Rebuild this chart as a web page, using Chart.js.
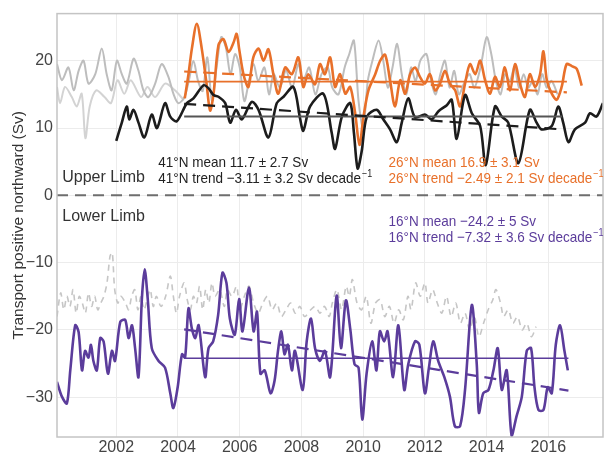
<!DOCTYPE html>
<html>
<head>
<meta charset="utf-8">
<script src="https://cdn.jsdelivr.net/npm/chart.js@4.4.1/dist/chart.umd.min.js"></script>
<style>
  html, body { margin: 0; padding: 0; background: #fff; }
  #wrap { width: 606px; height: 457px; }
</style>
</head>
<body>
<div id="wrap"><canvas id="amocChart" width="606" height="457"></canvas></div>
<script>
// transport time series (decimal year, Sv)

// 41N upper limb (black)
const blackYears = [2002.0, 2002.18, 2002.34, 2002.42, 2002.56, 2002.72, 2002.91, 2003.15, 2003.32, 2003.58, 2003.75, 2003.96, 2004.29, 2004.5, 2004.83, 2004.99, 2005.15, 2005.31, 2005.53, 2005.69, 2005.88, 2006.07, 2006.39, 2006.61, 2006.93, 2007.2, 2007.42, 2007.74, 2007.96, 2008.06, 2008.28, 2008.71, 2008.98, 2009.09, 2009.31, 2009.58, 2009.7, 2009.82, 2009.95, 2010.12, 2010.44, 2010.65, 2010.87, 2011.09, 2011.25, 2011.46, 2011.68, 2012.0, 2012.22, 2012.44, 2012.71, 2012.87, 2013.03, 2013.3, 2013.52, 2013.79, 2013.97, 2014.27, 2014.49, 2014.7, 2015.03, 2015.4, 2015.62, 2015.78, 2016.11, 2016.32, 2016.48, 2016.65, 2016.86, 2017.19, 2017.35, 2017.56, 2017.77];
const blackValues = [8.1, 10.8, 13.2, 11.3, 12.7, 10.8, 8.6, 12.0, 10.0, 13.7, 11.7, 11.0, 13.7, 14.4, 16.35, 15.9, 14.9, 14.65, 13.7, 10.8, 12.7, 11.3, 13.9, 12.7, 8.6, 13.7, 14.65, 16.1, 11.3, 9.6, 13.2, 15.1, 9.3, 6.9, 11.7, 13.7, 9.3, 4.0, 6.5, 11.7, 12.7, 11.3, 9.8, 7.9, 10.8, 14.4, 11.6, 12.0, 11.3, 12.5, 13.4, 14.2, 8.4, 14.9, 12.2, 10.3, 4.5, 13.2, 11.7, 10.8, 4.8, 12.7, 10.8, 9.8, 10.3, 13.2, 10.8, 7.9, 9.8, 10.8, 12.2, 11.7, 13.7];

// 26N upper limb (orange)
const orangeYears = [2004.22, 2004.34, 2004.45, 2004.61, 2004.77, 2004.93, 2005.04, 2005.15, 2005.31, 2005.47, 2005.64, 2005.8, 2005.9, 2005.98, 2006.12, 2006.28, 2006.44, 2006.61, 2006.77, 2006.93, 2007.09, 2007.25, 2007.47, 2007.69, 2007.9, 2008.06, 2008.22, 2008.44, 2008.6, 2008.76, 2008.93, 2009.09, 2009.25, 2009.42, 2009.58, 2009.74, 2009.88, 2010.01, 2010.17, 2010.39, 2010.55, 2010.71, 2010.87, 2011.03, 2011.2, 2011.36, 2011.52, 2011.68, 2011.84, 2012.0, 2012.16, 2012.33, 2012.49, 2012.65, 2012.81, 2012.98, 2013.14, 2013.3, 2013.46, 2013.63, 2013.79, 2013.95, 2014.11, 2014.27, 2014.43, 2014.59, 2014.76, 2014.92, 2015.08, 2015.24, 2015.4, 2015.57, 2015.73, 2015.84, 2015.95, 2016.11, 2016.27, 2016.43, 2016.59, 2016.76, 2016.92, 2017.08];
const orangeValues = [14.4, 18.0, 21.8, 25.5, 21.8, 16.4, 12.6, 15.0, 22.3, 23.2, 21.3, 22.7, 24.0, 21.8, 18.0, 16.1, 20.5, 21.8, 20.0, 21.7, 18.0, 15.1, 19.0, 18.0, 20.5, 16.1, 18.0, 16.5, 19.5, 18.0, 20.5, 16.1, 18.0, 15.1, 16.1, 12.2, 7.5, 11.7, 15.6, 18.0, 20.0, 20.9, 17.1, 13.2, 17.1, 15.1, 18.0, 19.0, 17.6, 16.6, 18.0, 15.6, 16.6, 18.5, 16.6, 15.6, 13.2, 16.6, 19.5, 18.0, 20.0, 17.1, 15.1, 17.6, 16.1, 19.0, 15.6, 19.5, 16.6, 14.6, 18.0, 16.1, 18.0, 21.4, 17.1, 15.1, 14.2, 16.1, 19.5, 19.2, 18.8, 16.3];

// 16N lower limb (purple)
const purpleYears = [2000.08, 2000.24, 2000.4, 2000.51, 2000.67, 2000.78, 2000.89, 2000.99, 2001.1, 2001.18, 2001.26, 2001.37, 2001.48, 2001.59, 2001.73, 2001.86, 2001.96, 2002.13, 2002.29, 2002.4, 2002.51, 2002.61, 2002.72, 2002.83, 2002.92, 2003.02, 2003.15, 2003.37, 2003.58, 2003.75, 2003.85, 2003.99, 2004.13, 2004.23, 2004.34, 2004.45, 2004.56, 2004.67, 2004.88, 2004.99, 2005.14, 2005.3, 2005.44, 2005.57, 2005.68, 2005.84, 2005.98, 2006.09, 2006.3, 2006.45, 2006.56, 2006.67, 2006.81, 2007.0, 2007.13, 2007.24, 2007.35, 2007.45, 2007.56, 2007.69, 2007.79, 2008.04, 2008.17, 2008.31, 2008.44, 2008.6, 2008.76, 2008.93, 2009.14, 2009.28, 2009.44, 2009.58, 2009.72, 2009.85, 2009.97, 2010.11, 2010.29, 2010.43, 2010.54, 2010.68, 2010.79, 2010.97, 2011.14, 2011.33, 2011.46, 2011.68, 2011.82, 2012.0, 2012.13, 2012.27, 2012.43, 2012.63, 2012.81, 2012.97, 2013.14, 2013.3, 2013.52, 2013.68, 2013.75, 2013.89, 2014.06, 2014.22, 2014.36, 2014.49, 2014.65, 2014.81, 2014.97, 2015.14, 2015.3, 2015.44, 2015.55, 2015.68, 2015.84, 2015.98, 2016.11, 2016.24, 2016.38, 2016.52, 2016.63];
const purpleValues = [-27.7, -29.9, -30.9, -26.0, -19.3, -20.3, -26.0, -23.1, -24.1, -22.2, -24.6, -26.0, -21.2, -21.7, -26.5, -23.1, -24.6, -18.8, -18.5, -21.2, -19.3, -22.7, -27.0, -15.4, -11.0, -15.4, -22.7, -24.6, -25.6, -29.4, -31.6, -28.5, -23.6, -24.1, -16.8, -19.8, -21.2, -19.3, -27.0, -22.7, -21.7, -17.8, -11.5, -13.0, -18.3, -20.7, -15.4, -20.2, -13.7, -20.2, -17.3, -26.5, -26.0, -29.4, -27.5, -23.1, -20.2, -23.6, -22.2, -26.0, -23.1, -28.9, -21.7, -18.3, -22.7, -24.6, -23.1, -27.0, -14.9, -22.7, -15.6, -19.8, -25.1, -25.6, -33.3, -26.5, -21.7, -26.0, -20.2, -21.7, -20.2, -27.0, -19.3, -28.9, -25.1, -21.7, -22.2, -29.4, -25.6, -21.7, -24.6, -27.0, -29.9, -34.3, -34.3, -28.9, -16.3, -25.1, -32.3, -29.4, -28.9, -26.0, -22.7, -28.9, -26.0, -35.7, -32.8, -29.9, -23.1, -22.7, -28.5, -31.9, -31.9, -28.5, -29.4, -22.2, -19.3, -23.1, -26.0];

// grey upper estimates
const greyYears = [2000.08, 2000.24, 2000.45, 2000.62, 2000.78, 2000.94, 2001.1, 2001.32, 2001.53, 2001.69, 2001.85, 2002.02, 2002.18, 2002.34, 2002.56, 2002.72, 2002.88, 2003.04, 2003.26, 2003.47, 2003.69, 2003.85, 2004.01, 2004.2, 2004.35, 2004.5, 2004.65, 2004.8, 2004.95, 2005.1, 2005.25, 2005.4, 2005.55, 2005.7, 2005.85, 2006.0, 2006.15, 2006.3, 2006.45, 2006.6, 2006.8, 2006.95, 2007.1, 2007.3, 2007.5, 2007.7, 2007.9, 2008.05, 2008.25, 2008.45, 2008.65, 2008.85, 2009.0, 2009.2, 2009.4, 2009.55, 2009.7, 2009.85, 2010.0, 2010.15, 2010.3, 2010.5, 2010.65, 2010.8, 2010.95, 2011.1, 2011.25, 2011.4, 2011.55, 2011.7, 2011.85, 2012.05, 2012.2, 2012.35, 2012.5, 2012.65, 2012.8, 2012.95, 2013.1, 2013.3, 2013.45, 2013.6, 2013.8, 2014.0, 2014.15, 2014.3, 2014.45, 2014.6, 2014.75, 2014.9, 2015.05, 2015.2, 2015.35, 2015.5, 2015.65, 2015.8, 2015.95, 2016.1, 2016.3];
const greyValues = [19.5, 17.1, 19.0, 15.6, 18.5, 20.0, 16.6, 18.0, 21.8, 18.0, 15.6, 20.0, 18.0, 16.6, 20.3, 18.5, 15.6, 14.6, 16.6, 19.5, 17.6, 15.1, 13.7, 14.5, 17, 20, 17, 15.5, 20.5, 14, 19, 23.5, 22, 18, 21, 19, 14, 17, 19.5, 17, 19, 15, 18, 16, 18.5, 16, 19.5, 17, 19, 15, 18, 19, 16, 15, 19, 21, 23, 14, 10, 17, 20, 23, 20, 16, 19, 22.5, 18, 15, 19, 17, 20, 21, 17, 15, 18, 20, 16, 18.5, 15, 17, 18, 16, 19, 23.5, 21, 17, 15, 18, 17, 19, 16, 18, 16, 17, 15, 18, 16, 17, 15];
const grey2Years = [2000.08, 2000.18, 2000.34, 2000.56, 2000.72, 2000.88, 2001.0, 2001.14, 2001.35, 2001.62, 2001.83, 2002.04, 2002.26, 2002.47, 2002.8, 2003.01, 2003.26, 2003.58, 2003.9, 2004.18];
const grey2Values = [16.1, 13.7, 16.1, 14.6, 13.2, 15.1, 8.5, 13.2, 15.6, 14.6, 13.7, 17.1, 15.1, 17.1, 14.6, 16.1, 14.6, 16.6, 15.6, 14.2];

// grey lower estimate (dashed)
const greyLowYears = [2000.08, 2000.2, 2000.3, 2000.4, 2000.5, 2000.6, 2000.7, 2000.8, 2000.9, 2001.0, 2001.1, 2001.2, 2001.3, 2001.4, 2001.5, 2001.6, 2001.7, 2001.8, 2001.87, 2001.95, 2002.05, 2002.15, 2002.3, 2002.4, 2002.5, 2002.6, 2002.7, 2002.8, 2002.9, 2003.0, 2003.1, 2003.2, 2003.3, 2003.45, 2003.6, 2003.75, 2003.85, 2003.95, 2004.05, 2004.2, 2004.3, 2004.4, 2004.5, 2004.6, 2004.7, 2004.8, 2004.9, 2005.0, 2005.1, 2005.2, 2005.35, 2005.5, 2005.6, 2005.75, 2005.9, 2006.0, 2006.15, 2006.3, 2006.45, 2006.6, 2006.75, 2006.9, 2007.05, 2007.2, 2007.35, 2007.5, 2007.65, 2007.8, 2007.95, 2008.1, 2008.3, 2008.45, 2008.6, 2008.75, 2008.9, 2009.0, 2009.15, 2009.3, 2009.45, 2009.55, 2009.65, 2009.8, 2009.95, 2010.1, 2010.25, 2010.4, 2010.55, 2010.7, 2010.85, 2011.0, 2011.15, 2011.3, 2011.45, 2011.55, 2011.7, 2011.85, 2012.0, 2012.1, 2012.25, 2012.4, 2012.55, 2012.7, 2012.85, 2013.0, 2013.15, 2013.3, 2013.45, 2013.6, 2013.75, 2013.9, 2014.05, 2014.2, 2014.3, 2014.45, 2014.55, 2014.7, 2014.85, 2015.0, 2015.15, 2015.3, 2015.45, 2015.6];
const greyLowValues = [-18, -14.5, -17, -15, -16.5, -14, -17.5, -15, -16, -17.5, -14.5, -16.5, -15, -17, -16, -15, -13, -9, -8.5, -14, -16, -15, -16, -17, -15, -14, -17, -15, -17, -15.5, -14, -16.5, -15, -16.5, -15, -12, -15, -17.5, -15, -13, -15.5, -17, -15, -16, -13.5, -17, -14, -16, -13, -15, -14, -16.5, -14, -15, -13.5, -17, -15, -13.5, -16, -17.5, -16, -15, -17, -16, -18, -17, -16, -17.5, -16.5, -18, -17, -16.5, -17.5, -16.5, -18, -16, -14, -17, -13.5, -15, -12.5, -16, -17, -15, -19, -16, -15.5, -18, -16.5, -19, -17, -18.5, -15, -17, -13, -15, -13, -16, -14, -16, -17.5, -15, -18, -16, -19, -17.5, -20, -18, -21, -19, -17, -15.5, -14, -16, -18, -17, -19, -18, -20, -19, -21, -19.5];

// mean and trend lines (start, end)
const mean41Years = [2004.2, 2016.45];
const mean41Values = [11.7, 11.7];
const trend41Values = [13.6, 9.8];
const mean26Years = [2004.2, 2016.6];
const mean26Values = [16.9, 16.9];
const trend26Values = [18.4, 15.3];
const mean16Years = [2004.2, 2016.65];
const mean16Values = [-24.2, -24.2];
const trend16Values = [-19.9, -29.0];

const zeroYears = [2000.08, 2017.77];
const zeroValues = [0, 0];

const yTicks = [-30, -20, -10, 0, 10, 20];

const colors = {
  black: "#1c1c1c",
  meanGrey: "#555555",
  orange: "#e8702a",
  purple: "#5b3c9b",
  grey: "#bdbdbd",
  grey2: "#d3d3d3",
  greyLow: "#c6c6c6",
  zero: "#6e6e6e",
};

const FONT = "'Liberation Sans', Arial, sans-serif";

function pts(xs, ys) {
  return xs.map((x, i) => ({ x: x, y: ys[i] }));
}

function lineSet(xs, ys, color, width, extra) {
  return Object.assign({
    data: pts(xs, ys),
    borderColor: color,
    borderWidth: width,
    pointRadius: 0,
    fill: false,
    tension: 0.3,
  }, extra || {});
}

// text notes placed in data coordinates
const notes = [
  { x: 2000.25, y: 2.7, text: "Upper Limb", color: "#333", size: 16, squeeze: 1 },
  { x: 2000.25, y: -3.1, text: "Lower Limb", color: "#333", size: 16, squeeze: 1 },
  { x: 2003.36, y: 4.8, text: "41°N mean 11.7 ± 2.7 Sv", color: "#222", size: 15, squeeze: 0.9 },
  { x: 2003.36, y: 2.4, text: "41°N trend −3.11 ± 3.2 Sv decade", sup: "−1", color: "#222", size: 15, squeeze: 0.9 },
  { x: 2010.82, y: 4.8, text: "26°N mean 16.9 ± 3.1 Sv", color: colors.orange, size: 15, squeeze: 0.9 },
  { x: 2010.82, y: 2.4, text: "26°N trend −2.49 ± 2.1 Sv decade", sup: "−1", color: colors.orange, size: 15, squeeze: 0.9 },
  { x: 2010.82, y: -4.0, text: "16°N mean −24.2 ± 5 Sv", color: colors.purple, size: 15, squeeze: 0.9 },
  { x: 2010.82, y: -6.35, text: "16°N trend −7.32 ± 3.6 Sv decade", sup: "−1", color: colors.purple, size: 15, squeeze: 0.9 },
];

const notesPlugin = {
  id: "notes",
  afterDraw(chart) {
    const ctx = chart.ctx;
    const xs = chart.scales.x;
    const ys = chart.scales.y;
    const area = chart.chartArea;

    // plot frame
    ctx.save();
    ctx.strokeStyle = "#c4c4c4";
    ctx.lineWidth = 1.5;
    ctx.strokeRect(area.left, area.top, area.right - area.left, area.bottom - area.top);
    ctx.restore();

    notes.forEach(n => {
      const px = xs.getPixelForValue(n.x);
      const py = ys.getPixelForValue(n.y);
      ctx.save();
      ctx.translate(px, py);
      ctx.scale(n.squeeze, 1);
      ctx.fillStyle = n.color;
      ctx.textBaseline = "middle";
      ctx.textAlign = "left";
      ctx.font = n.size + "px " + FONT;
      ctx.fillText(n.text, 0, 0);
      if (n.sup) {
        const w = ctx.measureText(n.text).width;
        ctx.font = "10px " + FONT;
        ctx.fillText(n.sup, w + 1, -5);
      }
      ctx.restore();
    });
  }
};

const ctx = document.getElementById("amocChart").getContext("2d");
new Chart(ctx, {
  type: "line",
  data: {
    datasets: [
      lineSet(zeroYears, zeroValues, colors.zero, 2, { borderDash: [11, 7], tension: 0 }),
      lineSet(mean41Years, trend41Values, colors.black, 2.2, { borderDash: [12, 7], tension: 0 }),
      lineSet(mean26Years, trend26Values, colors.orange, 2.2, { borderDash: [12, 7], tension: 0 }),
      lineSet(mean16Years, trend16Values, colors.purple, 2.2, { borderDash: [12, 7], tension: 0 }),
      lineSet(mean41Years, mean41Values, colors.meanGrey, 2, { tension: 0 }),
      lineSet(mean26Years, mean26Values, colors.orange, 1.6, { tension: 0 }),
      lineSet(mean16Years, mean16Values, colors.purple, 1.6, { tension: 0 }),
      lineSet(blackYears, blackValues, colors.black, 2.6),
      lineSet(orangeYears, orangeValues, colors.orange, 2.6),
      lineSet(purpleYears, purpleValues, colors.purple, 2.6),
      lineSet(greyYears, greyValues, colors.grey, 2),
      lineSet(grey2Years, grey2Values, colors.grey2, 2),
      lineSet(greyLowYears, greyLowValues, colors.greyLow, 1.6, { borderDash: [6, 5] }),
    ]
  },
  options: {
    responsive: false,
    animation: false,
    layout: { padding: { top: 5, right: 3, left: 0, bottom: 0 } },
    plugins: {
      legend: { display: false },
      tooltip: { enabled: false }
    },
    scales: {
      x: {
        type: "linear",
        min: 2000.08,
        max: 2017.77,
        afterFit(scale) { scale.height = 20; },
        grid: { color: "#ececec", lineWidth: 1, drawTicks: false },
        border: { display: false },
        ticks: {
          stepSize: 2,
          includeBounds: false,
          padding: 1,
          color: "#444",
          font: { family: FONT, size: 16 },
          callback: v => String(v)
        }
      },
      y: {
        type: "linear",
        min: -35.9,
        max: 27,
        afterFit(scale) { scale.width = 57; },
        afterBuildTicks(scale) { scale.ticks = yTicks.map(v => ({ value: v })); },
        grid: { color: "#ececec", lineWidth: 1, drawTicks: false },
        border: { display: false },
        ticks: {
          padding: 4,
          color: "#444",
          font: { family: FONT, size: 16 },
          callback: v => String(v).replace("-", "−")
        },
        title: {
          display: true,
          text: "Transport positive northward (Sv)",
          color: "#333",
          padding: { top: 9, bottom: 0 },
          font: { family: FONT, size: 15.5 }
        }
      }
    }
  },
  plugins: [notesPlugin]
});
</script>
</body>
</html>
